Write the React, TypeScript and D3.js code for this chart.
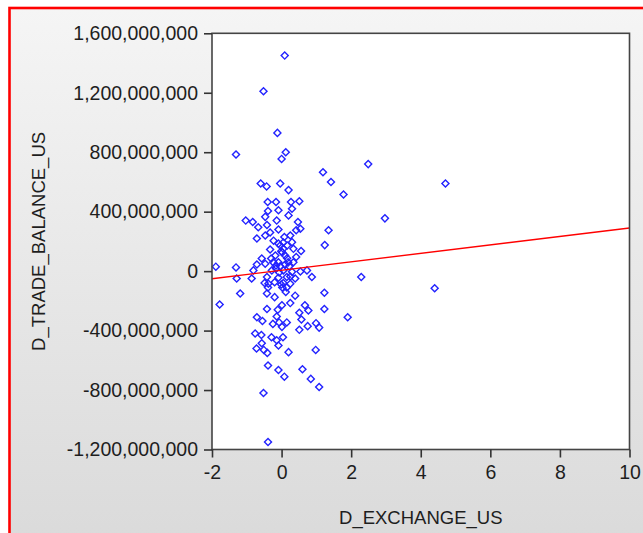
import React, { useEffect, useRef } from 'react';
import * as d3 from 'd3';

// D_EXCHANGE_US values (x)
const exchange = [
  0.09, -0.52, -0.12, -1.31, 0.12, 0.0, 1.19, 1.42, -0.6, -0.43, -0.04, 0.2, 1.78, 2.49, 4.71, 2.97,
  -0.4, -0.16, 0.27, 0.51, -0.09, -0.39, 0.3, -1.03, -0.83, -0.47, -0.14, 0.2, 0.47, -0.67, -0.42,
  -0.09, 0.42, 0.54, 1.35, -0.71, -0.47, -0.23, 0.08, 0.3, 1.24, -0.09, -0.33, 0.05, 0.34, 0.56,
  -0.57, -0.18, 0.1, 0.42, -0.71, -0.47, -0.09, 0.1, 0.34, -1.31, -0.81, -0.28, 0.05, 0.3, 0.54,
  0.73, -1.29, -0.86, -0.42, -0.09, 0.15, 0.39, 0.87, -0.38, 0.05, -1.89, -1.78, -1.19, 2.29, 4.4,
  1.23, 0.67, 0.77, 1.23, 1.9, 0.99, 1.08, 0.75, -0.49, -0.2, 0.25, -0.39, 0.15, -0.42, -0.2, 0.12,
  0.39, -0.42, 0.01, 0.25, -0.11, -0.71, -0.55, -0.14, 0.51, -0.25, -0.07, 0.15, 0.57, 0.01, 0.51,
  -0.76, -0.58, -0.29, 0.04, -0.14, -0.57, -0.09, -0.72, -0.51, -0.41, 0.2, 0.98, -0.39, -0.09,
  0.08, 0.6, 0.84, 1.08, -0.52, -0.39, -0.04, 0.02, 0.16, -0.04, 0.22, -0.07, 0.02, -0.3, -0.16,
  0.05, 0.16, -0.01, 0.19, -0.16, 0.25, -0.01, -0.24, -0.33, 0.25,
];

// D_TRADE_BALANCE_US values (y), in millions
const tradeBalanceM = [
  1450, 1210, 930, 785, 800, 755, 665, 600, 590, 570, 590, 545, 515, 720, 590, 355,
  465, 465, 465, 470, 410, 405, 420, 340, 330, 365, 340, 375, 330, 295, 310,
  280, 275, 285, 275, 220, 240, 205, 230, 195, 175, 185, 145, 150, 150, 135,
  85, 105, 105, 95, 45, 50, 60, 45, 60, 25, 5, 5, 5, -5, -2,
  5, -50, -50, -40, -45, -40, -50, -40, -85, -80, 30, -225, -150, -40, -115,
  -145, -230, -265, -255, -310, -350, -380, -370, -80, -75, -85, -110, -110, -150, -175, -140,
  -165, -255, -230, -215, -260, -310, -335, -305, -280, -355, -345, -345, -325, -375, -395,
  -420, -430, -445, -445, -465, -485, -500, -520, -530, -550, -545, -530, -635, -665,
  -710, -660, -725, -780, -820, -1150, 173, 126, 86, 32, 32, -9, -110, 85, 38,
  193, 173, 133, 59, 18, -36, -90, 59, 260, 240,
];

// regression line end points (x, y in millions)
const fitX = [-2, 10];
const fitYM = [-51, 290];

const xTicks = [-2, 0, 2, 4, 6, 8, 10];
const yTicks = [-1.2e9, -8e8, -4e8, 0, 4e8, 8e8, 1.2e9, 1.6e9];

const W = 643;
const H = 533;
const left = 212;
const right = 629.5;
const top = 33.3;
const bottom = 449.5;
const FONT = '"Liberation Sans", Arial, sans-serif';

const fmt = (d: number) => (d < 0 ? '-' : '') + d3.format(',')(Math.abs(d));

export default function App() {
  const ref = useRef<SVGSVGElement | null>(null);

  useEffect(() => {
    const svg = d3.select(ref.current);
    svg.selectAll('*').remove();

    const x = d3.scaleLinear().domain([-2, 10]).range([left, right]);
    const y = d3.scaleLinear().domain([-1.2e9, 1.6e9]).range([bottom, top]);

    const grad = svg
      .append('defs')
      .append('linearGradient')
      .attr('id', 'bg')
      .attr('x1', 0)
      .attr('y1', 0)
      .attr('x2', 0)
      .attr('y2', 1);
    grad.append('stop').attr('offset', '0%').attr('stop-color', '#f5f5f5');
    grad.append('stop').attr('offset', '100%').attr('stop-color', '#d7d7d7');

    svg.append('rect').attr('width', W).attr('height', H).attr('fill', '#fff');
    svg
      .append('rect')
      .attr('x', 9.5)
      .attr('y', 8)
      .attr('width', 700)
      .attr('height', 600)
      .attr('fill', 'url(#bg)')
      .attr('stroke', '#ff0000')
      .attr('stroke-width', 2.6);

    svg
      .append('rect')
      .attr('x', left)
      .attr('y', top)
      .attr('width', right - left)
      .attr('height', bottom - top)
      .attr('fill', '#fff');

    // points
    const sym = d3.symbol(d3.symbolSquare, 25)();
    svg
      .append('g')
      .selectAll('path')
      .data(exchange.map((v, i) => [v, tradeBalanceM[i] * 1e6]))
      .enter()
      .append('path')
      .attr('d', sym)
      .attr('transform', (d) => `translate(${x(d[0])},${y(d[1])}) rotate(45)`)
      .attr('fill', 'none')
      .attr('stroke', '#2323ff')
      .attr('stroke-width', 1.4);

    // fit line
    const line = d3
      .line<number>()
      .x((d) => x(d))
      .y((_, i) => y(fitYM[i] * 1e6));
    svg
      .append('path')
      .attr('d', line(fitX))
      .attr('fill', 'none')
      .attr('stroke', '#ff0000')
      .attr('stroke-width', 1.4);

    // frame
    svg
      .append('rect')
      .attr('x', left)
      .attr('y', top)
      .attr('width', right - left)
      .attr('height', bottom - top)
      .attr('fill', 'none')
      .attr('stroke', '#444')
      .attr('stroke-width', 1.6);

    const yAxis = svg
      .append('g')
      .attr('transform', `translate(${left},0)`)
      .call(d3.axisLeft(y).tickValues(yTicks).tickFormat(fmt as any).tickSize(8).tickSizeOuter(0).tickPadding(6));
    const xAxis = svg
      .append('g')
      .attr('transform', `translate(0,${bottom})`)
      .call(d3.axisBottom(x).tickValues(xTicks).tickFormat(fmt as any).tickSize(8).tickSizeOuter(0).tickPadding(8));

    [yAxis, xAxis].forEach((g) => {
      g.select('.domain').remove();
      g.selectAll('line').attr('stroke', '#333').attr('stroke-width', 1.6);
      g.selectAll('text')
        .attr('fill', '#1e1e1e')
        .style('font-family', FONT)
        .style('font-size', '19.5px');
    });

    svg
      .append('text')
      .attr('x', (left + right) / 2)
      .attr('y', 524)
      .attr('text-anchor', 'middle')
      .attr('fill', '#1e1e1e')
      .style('font-family', FONT)
      .style('font-size', '18.5px')
      .text('D_EXCHANGE_US');

    svg
      .append('text')
      .attr('transform', `translate(45,${(top + bottom) / 2}) rotate(-90)`)
      .attr('text-anchor', 'middle')
      .attr('fill', '#1e1e1e')
      .style('font-family', FONT)
      .style('font-size', '18.5px')
      .text('D_TRADE_BALANCE_US');
  }, []);

  return (
    <svg
      ref={ref}
      width={W}
      height={H}
      style={{ position: 'absolute', left: 0, top: 0, display: 'block' }}
    />
  );
}
